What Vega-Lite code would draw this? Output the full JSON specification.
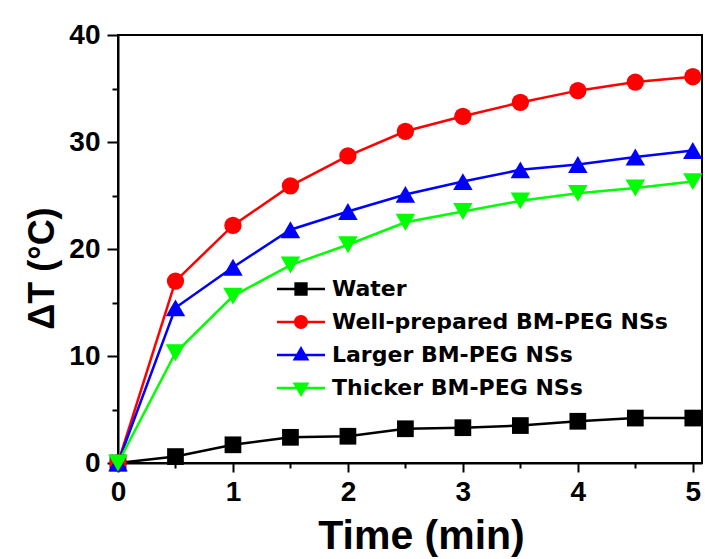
{
  "$schema": "https://vega.github.io/schema/vega-lite/v6.json",
  "width": 584,
  "height": 428,
  "autosize": {"type": "none"},
  "padding": {"left": 118, "top": 35, "right": 3, "bottom": 96},
  "background": "white",
  "config": {
    "view": {"stroke": "black", "strokeWidth": 2},
    "font": "Liberation Sans"
  },
  "data": {
    "values": [
      {"t": 0, "dT": 0, "s": "Water"},
      {"t": 0.5, "dT": 0.6, "s": "Water"},
      {"t": 1, "dT": 1.7, "s": "Water"},
      {"t": 1.5, "dT": 2.4, "s": "Water"},
      {"t": 2, "dT": 2.5, "s": "Water"},
      {"t": 2.5, "dT": 3.2, "s": "Water"},
      {"t": 3, "dT": 3.3, "s": "Water"},
      {"t": 3.5, "dT": 3.5, "s": "Water"},
      {"t": 4, "dT": 3.9, "s": "Water"},
      {"t": 4.5, "dT": 4.2, "s": "Water"},
      {"t": 5, "dT": 4.2, "s": "Water"},
      {"t": 0, "dT": 0, "s": "Well-prepared BM-PEG NSs"},
      {"t": 0.5, "dT": 17.0, "s": "Well-prepared BM-PEG NSs"},
      {"t": 1, "dT": 22.2, "s": "Well-prepared BM-PEG NSs"},
      {"t": 1.5, "dT": 25.9, "s": "Well-prepared BM-PEG NSs"},
      {"t": 2, "dT": 28.7, "s": "Well-prepared BM-PEG NSs"},
      {"t": 2.5, "dT": 31.0, "s": "Well-prepared BM-PEG NSs"},
      {"t": 3, "dT": 32.4, "s": "Well-prepared BM-PEG NSs"},
      {"t": 3.5, "dT": 33.7, "s": "Well-prepared BM-PEG NSs"},
      {"t": 4, "dT": 34.8, "s": "Well-prepared BM-PEG NSs"},
      {"t": 4.5, "dT": 35.6, "s": "Well-prepared BM-PEG NSs"},
      {"t": 5, "dT": 36.1, "s": "Well-prepared BM-PEG NSs"},
      {"t": 0, "dT": 0, "s": "Larger BM-PEG NSs"},
      {"t": 0.5, "dT": 14.5, "s": "Larger BM-PEG NSs"},
      {"t": 1, "dT": 18.3, "s": "Larger BM-PEG NSs"},
      {"t": 1.5, "dT": 21.8, "s": "Larger BM-PEG NSs"},
      {"t": 2, "dT": 23.5, "s": "Larger BM-PEG NSs"},
      {"t": 2.5, "dT": 25.1, "s": "Larger BM-PEG NSs"},
      {"t": 3, "dT": 26.3, "s": "Larger BM-PEG NSs"},
      {"t": 3.5, "dT": 27.4, "s": "Larger BM-PEG NSs"},
      {"t": 4, "dT": 27.9, "s": "Larger BM-PEG NSs"},
      {"t": 4.5, "dT": 28.6, "s": "Larger BM-PEG NSs"},
      {"t": 5, "dT": 29.2, "s": "Larger BM-PEG NSs"},
      {"t": 0, "dT": 0, "s": "Thicker BM-PEG NSs"},
      {"t": 0.5, "dT": 10.3, "s": "Thicker BM-PEG NSs"},
      {"t": 1, "dT": 15.6, "s": "Thicker BM-PEG NSs"},
      {"t": 1.5, "dT": 18.5, "s": "Thicker BM-PEG NSs"},
      {"t": 2, "dT": 20.4, "s": "Thicker BM-PEG NSs"},
      {"t": 2.5, "dT": 22.5, "s": "Thicker BM-PEG NSs"},
      {"t": 3, "dT": 23.5, "s": "Thicker BM-PEG NSs"},
      {"t": 3.5, "dT": 24.5, "s": "Thicker BM-PEG NSs"},
      {"t": 4, "dT": 25.2, "s": "Thicker BM-PEG NSs"},
      {"t": 4.5, "dT": 25.7, "s": "Thicker BM-PEG NSs"},
      {"t": 5, "dT": 26.3, "s": "Thicker BM-PEG NSs"}
    ]
  },
  "encoding": {
    "x": {
      "field": "t", "type": "quantitative",
      "scale": {"domain": [0, 5.08], "nice": false, "zero": false},
      "axis": {
        "title": "Time (min)",
        "values": [0, 0.5, 1, 1.5, 2, 2.5, 3, 3.5, 4, 4.5, 5],
        "labelExpr": "datum.value % 1 === 0 ? format(datum.value, 'd') : ''",
        "grid": false,
        "domainColor": "black", "domainWidth": 2,
        "tickColor": "black", "tickWidth": 2,
        "tickSize": {"condition": {"test": "datum.value % 1 === 0", "value": 9}, "value": 5},
        "labelFont": "Liberation Sans", "labelFontWeight": "bold", "labelFontSize": 28, "labelColor": "black",
        "labelPadding": 6, "labelFlush": false, "labelOverlap": false,
        "titleFont": "Liberation Sans", "titleFontWeight": "bold", "titleFontSize": 41, "titleColor": "black",
        "titleX": 303, "titleY": 85, "titleBaseline": "alphabetic", "titleAlign": "center"
      }
    },
    "y": {
      "field": "dT", "type": "quantitative",
      "scale": {"domain": [0, 40], "nice": false},
      "axis": {
        "title": "ΔT (°C)",
        "values": [0, 5, 10, 15, 20, 25, 30, 35, 40],
        "labelExpr": "datum.value % 10 === 0 ? format(datum.value, 'd') : ''",
        "grid": false,
        "domainColor": "black", "domainWidth": 2,
        "tickColor": "black", "tickWidth": 2,
        "tickSize": {"condition": {"test": "datum.value % 10 === 0", "value": 11}, "value": 6},
        "labelFont": "Liberation Sans", "labelFontWeight": "bold", "labelFontSize": 28, "labelColor": "black",
        "labelPadding": 7, "labelFlush": false, "labelOverlap": false,
        "titleFont": "Liberation Sans", "titleFontWeight": "bold", "titleFontSize": 36, "titleColor": "black",
        "titleX": -76, "titleY": 233, "titleAngle": -90, "titleBaseline": "middle", "titleAlign": "center"
      }
    },
    "color": {
      "field": "s", "type": "nominal",
      "scale": {
        "domain": ["Water", "Well-prepared BM-PEG NSs", "Larger BM-PEG NSs", "Thicker BM-PEG NSs"],
        "range": ["#000000", "#ff0000", "#0000ff", "#00ff00"]
      },
      "legend": {
        "title": null,
        "orient": "none",
        "legendX": 172,
        "legendY": 243,
        "symbolSize": 196,
        "symbolStrokeWidth": 0,
        "labelFont": "DejaVu Sans",
        "labelFontWeight": "bold",
        "labelFontSize": 22,
        "labelColor": "black",
        "labelLimit": 0,
        "labelOffset": 20,
        "rowPadding": 11,
        "encode": {
          "symbols": {
            "update": {
              "fill": {"scale": "color", "field": "value"},
              "stroke": {"value": "transparent"},
              "opacity": {"value": 1},
              "shape": {"signal": "datum.value === 'Water' ? 'M-3.43,-0.18H3.43V0.18H-3.43Z M-0.95,-0.95H0.95V0.95H-0.95Z' : datum.value === 'Well-prepared BM-PEG NSs' ? 'M-3.43,-0.18H3.43V0.18H-3.43Z M-1,0A1,1 0 1,1 1,0A1,1 0 1,1 -1,0Z' : datum.value === 'Larger BM-PEG NSs' ? 'M-3.43,-0.18H3.43V0.18H-3.43Z M0,-1.3L1.2,0.8H-1.2Z' : 'M-3.43,-0.18H3.43V0.18H-3.43Z M-1.2,-0.8H1.2L0,1.3Z'"}
            }
          }
        }
      }
    }
  },
  "layer": [
    {"mark": {"type": "line", "strokeWidth": 2.5}},
    {
      "transform": [{"filter": "datum.s === 'Water'"}],
      "mark": {"type": "point", "filled": true, "opacity": 1, "shape": "square", "size": 280}
    },
    {
      "transform": [{"filter": "datum.s === 'Well-prepared BM-PEG NSs'"}],
      "mark": {"type": "point", "filled": true, "opacity": 1, "shape": "circle", "size": 300}
    },
    {
      "transform": [{"filter": "datum.s === 'Larger BM-PEG NSs'"}],
      "mark": {"type": "point", "filled": true, "opacity": 1, "shape": "triangle-up", "size": 380}
    },
    {
      "transform": [{"filter": "datum.s === 'Thicker BM-PEG NSs'"}],
      "mark": {"type": "point", "filled": true, "opacity": 1, "shape": "triangle-down", "size": 380}
    }
  ]
}
